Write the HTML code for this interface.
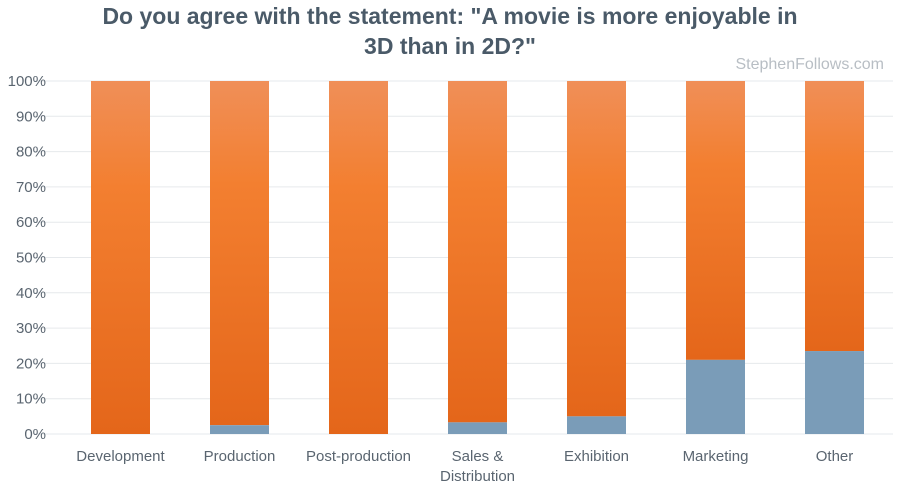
<!DOCTYPE html>
<html><head><meta charset="utf-8"><style>
body{margin:0;background:#fff;font-family:"Liberation Sans",sans-serif;}
svg{display:block}
</style></head><body>
<svg width="900" height="485" xmlns="http://www.w3.org/2000/svg">
<defs><linearGradient id="og" x1="0" y1="0" x2="0" y2="1"><stop offset="0" stop-color="#f08f58"/><stop offset="0.3" stop-color="#f37f30"/><stop offset="1" stop-color="#e4661a"/></linearGradient></defs>
<text x="450" y="24" text-anchor="middle" font-size="23" font-weight="bold" fill="#4a5a68">Do you agree with the statement: "A movie is more enjoyable in</text>
<text x="450" y="54" text-anchor="middle" font-size="23" font-weight="bold" fill="#4a5a68">3D than in 2D?"</text>
<text x="884" y="69" text-anchor="end" font-size="16" fill="#b8bec4">StephenFollows.com</text>
<g id="grid"></g><g id="bars"></g><g id="xl"></g>
</svg>
<script>
const categories=["Development","Production","Post-production","Sales & Distribution","Exhibition","Marketing","Other"];
const yesValues=[0,2.5,0,3.3,5,21,23.5];
const yTicks=[0,10,20,30,40,50,60,70,80,90,100];
const NS="http://www.w3.org/2000/svg";
const y0=434,y1=81,x0=35,x1=893,step=119,first=120.5,bw=59;
const Y=v=>y0-(v/100)*(y0-y1);
const X=i=>first+i*step;
function mk(t,a,p){const e=document.createElementNS(NS,t);for(const k in a)e.setAttribute(k,a[k]);p.appendChild(e);return e;}
const g=document.getElementById('grid'),b=document.getElementById('bars'),xl=document.getElementById('xl');
yTicks.forEach(t=>{
 const l=mk('line',{x1:x0,x2:x1,y1:Y(t),y2:Y(t),stroke:'#e6e9ec','stroke-width':1},g);
 
 
 const tx=mk('text',{x:46,y:Y(t)+5,'text-anchor':'end','font-size':15,fill:'#5a6570'},g);
 tx.textContent=t+'%';
 
 
});
categories.forEach((c,i)=>{
 const v=yesValues[i];
 const o=mk('rect',{x:X(i)-bw/2,y:Y(100),width:bw,height:Y(v)-Y(100),fill:'url(#og)'},b);
 
 
 if(v>0){const r=mk('rect',{x:X(i)-bw/2,y:Y(v),width:bw,height:Y(0)-Y(v),fill:'#7a9cb8'},b);
 
 }
 const parts=c==="Sales & Distribution"?["Sales &","Distribution"]:[c];
 parts.forEach((p,j)=>{const t=mk('text',{x:X(i),y:461+j*20,'text-anchor':'middle','font-size':15,fill:'#5a6570'},xl);
 t.textContent=p;
 
 });
});
</script>
</body></html>
